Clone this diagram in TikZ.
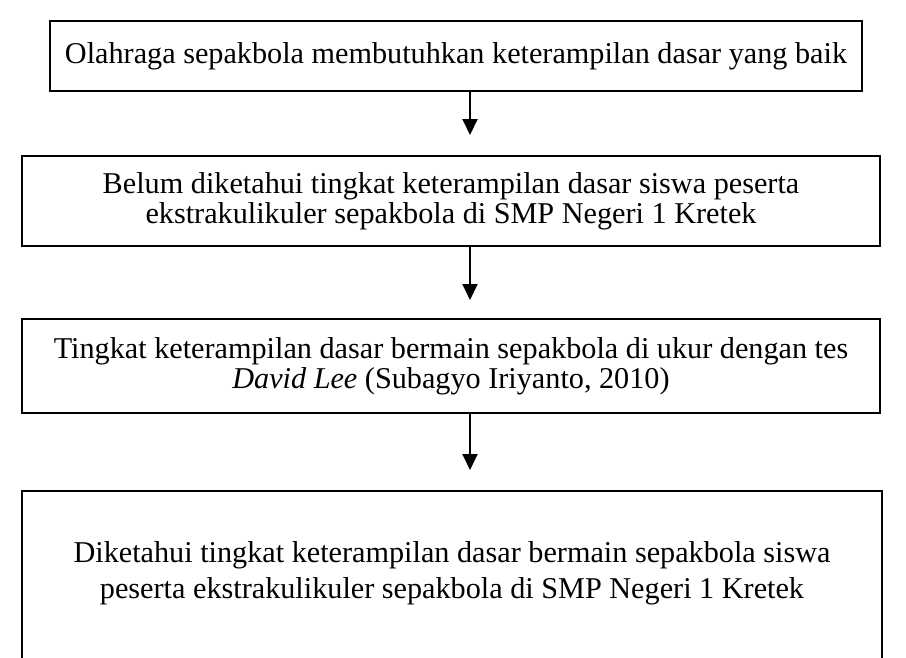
\documentclass[tikz,border=0pt]{standalone}
\usepackage{fontspec}
\setmainfont{Liberation Serif}
\usepackage{tikz}
\usetikzlibrary{arrows.meta,positioning}
\tikzstyle{arrow} = [line width=1.1pt,-{Triangle[length=0.32cm,width=0.3cm]}]
\tikzstyle{stepbox} = [rectangle, draw, line width=1.2pt, anchor=north, align=center, text centered, inner xsep=0pt, font=\fontsize{17.2}{17.2}\selectfont]

\begin{document}
\begin{tikzpicture}[x=0.02cm, y=-0.02cm]
    \clip (0,0) rectangle (906,657);
    \coordinate (axis) at (470,0);

    \node[stepbox, minimum width=16.24cm, minimum height=1.4cm] (problem) at (456,20)
        {Olahraga sepakbola membutuhkan keterampilan dasar yang baik};
    \node[stepbox, minimum width=17.16cm, minimum height=1.8cm] (unknown) at (451,155)
        {Belum diketahui tingkat keterampilan dasar siswa peserta\\
         ekstrakulikuler sepakbola di SMP Negeri 1 Kretek};
    \node[stepbox, minimum width=17.16cm, minimum height=1.88cm] (measure) at (451,318)
        {Tingkat keterampilan dasar bermain sepakbola di ukur dengan tes\\
         \textit{David Lee} (Subagyo Iriyanto, 2010)};
    % last box runs on below the page
    \node[stepbox, minimum width=17.2cm, inner ysep=1.0cm, text depth=4cm,
          font=\fontsize{17.2}{20.5}\selectfont] (result) at (452,490)
        {Diketahui tingkat keterampilan dasar bermain sepakbola siswa\\
         peserta ekstrakulikuler sepakbola di SMP Negeri 1 Kretek};

    \draw[arrow] (problem.south -| axis) -- ([yshift=0.4cm]unknown.north -| axis);
    \draw[arrow] (unknown.south -| axis) -- ([yshift=0.36cm]measure.north -| axis);
    \draw[arrow] (measure.south -| axis) -- ([yshift=0.4cm]result.north -| axis);
\end{tikzpicture}
\end{document}
